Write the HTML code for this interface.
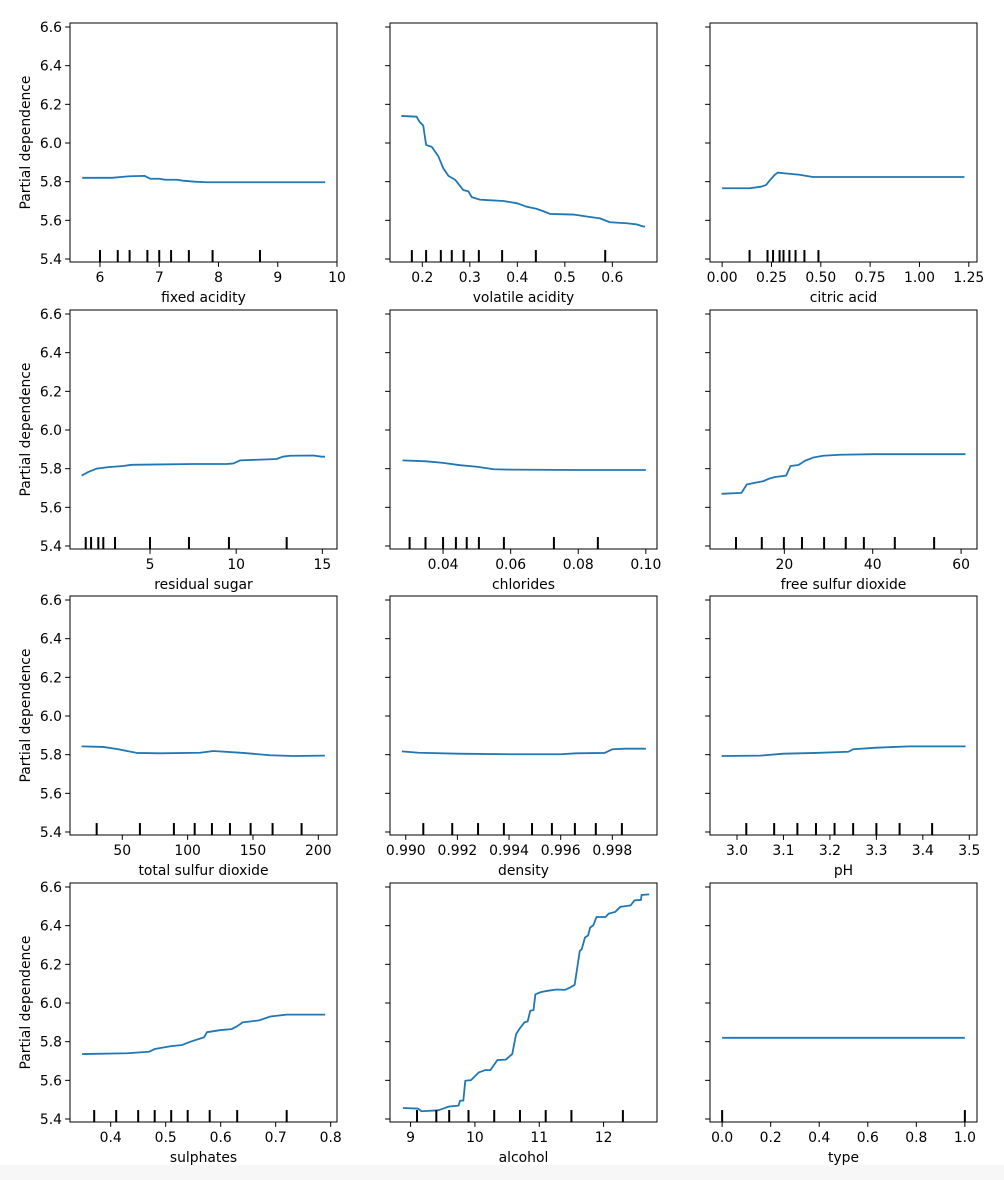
<!DOCTYPE html>
<html><head><meta charset="utf-8">
<style>
html,body{margin:0;padding:0;background:#fff;}
svg{display:block;font-family:"DejaVu Sans","Liberation Sans",sans-serif;}
</style></head>
<body>
<svg id="fig" width="1004" height="1180" viewBox="0 0 1004 1180" xmlns="http://www.w3.org/2000/svg">
<rect x="0" y="0" width="1004" height="1180" fill="#ffffff"/>
<rect x="0" y="1165" width="1004" height="15" fill="#f7f7f7"/>
</svg>
<script>
// ---- data ----
const featureNames = ["fixed acidity","volatile acidity","citric acid","residual sugar","chlorides","free sulfur dioxide","total sulfur dioxide","density","pH","sulphates","alcohol","type"];
const yTicks = [5.4,5.6,5.8,6.0,6.2,6.4,6.6];
const yTickLabels = ["5.4","5.6","5.8","6.0","6.2","6.4","6.6"];

const fixedAcidityX = [5.7,6.2,6.5,6.75,6.85,7.0,7.1,7.3,7.4,7.6,7.8,9.8];
const fixedAcidityY = [5.82,5.82,5.828,5.83,5.815,5.815,5.81,5.81,5.805,5.80,5.797,5.797];
const fixedAcidityDeciles = [6.0,6.3,6.5,6.8,7.0,7.2,7.5,7.9,8.7];
const fixedAcidityTicks = [6,7,8,9,10];
const fixedAcidityTickLabels = ["6","7","8","9","10"];

const volatileX = [0.156,0.188,0.194,0.202,0.208,0.22,0.234,0.244,0.255,0.269,0.286,0.297,0.304,0.321,0.335,0.371,0.40,0.42,0.44,0.455,0.469,0.518,0.546,0.574,0.595,0.63,0.651,0.665,0.669];
const volatileY = [6.14,6.136,6.11,6.09,5.99,5.98,5.93,5.87,5.83,5.81,5.757,5.75,5.72,5.707,5.705,5.70,5.688,5.67,5.66,5.647,5.633,5.63,5.62,5.61,5.59,5.585,5.579,5.568,5.568];
const volatileDeciles = [0.178,0.208,0.239,0.262,0.287,0.319,0.368,0.439,0.585];
const volatileTicks = [0.2,0.3,0.4,0.5,0.6];
const volatileTickLabels = ["0.2","0.3","0.4","0.5","0.6"];

const citricX = [0,0.139,0.198,0.223,0.24,0.265,0.282,0.30,0.392,0.46,1.228];
const citricY = [5.766,5.766,5.774,5.783,5.805,5.834,5.847,5.845,5.836,5.824,5.824];
const citricDeciles = [0.139,0.23,0.258,0.291,0.311,0.341,0.372,0.417,0.488];
const citricTicks = [0,0.25,0.5,0.75,1.0,1.25];
const citricTickLabels = ["0.00","0.25","0.50","0.75","1.00","1.25"];

const sugarX = [1.03,1.42,1.9,2.58,3.45,3.94,5.58,7.51,9.46,9.84,10.23,12.35,12.7,13.12,14.48,14.96,15.15];
const sugarY = [5.764,5.783,5.80,5.808,5.814,5.82,5.822,5.824,5.824,5.827,5.843,5.85,5.862,5.867,5.868,5.862,5.862];
const sugarDeciles = [1.27,1.58,2.0,2.29,2.97,5.0,7.26,9.58,12.93];
const sugarTicks = [5,10,15];
const sugarTickLabels = ["5","10","15"];

const chloridesX = [0.028,0.035,0.04,0.045,0.05,0.055,0.06,0.08,0.1];
const chloridesY = [5.843,5.838,5.83,5.818,5.81,5.797,5.795,5.793,5.793];
const chloridesDeciles = [0.0301,0.0348,0.04,0.0438,0.047,0.0506,0.058,0.0728,0.0858];
const chloridesTicks = [0.04,0.06,0.08,0.10];
const chloridesTickLabels = ["0.04","0.06","0.08","0.10"];

const freeSO2X = [5.8,10.3,11.5,13.4,15.2,16.4,17.9,20.4,21.4,23.2,24.7,26.6,28.8,32.6,40.2,61];
const freeSO2Y = [5.67,5.675,5.718,5.727,5.735,5.747,5.757,5.764,5.814,5.819,5.841,5.858,5.867,5.872,5.875,5.875];
const freeSO2Deciles = [9.06,14.9,19.9,24,29,33.9,38,45,53.9];
const freeSO2Ticks = [20,40,60];
const freeSO2TickLabels = ["20","40","60"];

const totalSO2X = [18.9,35.5,47,61,79,109.5,119.7,142.6,163,180.8,205];
const totalSO2Y = [5.843,5.84,5.828,5.809,5.807,5.81,5.819,5.809,5.797,5.793,5.795];
const totalSO2Deciles = [30.4,63.5,89.5,105.4,118.6,132.4,148.2,165,187.2];
const totalSO2Ticks = [50,100,150,200];
const totalSO2TickLabels = ["50","100","150","200"];

const densityX = [0.98985,0.9905,0.992,0.994,0.996,0.9966,0.9977,0.998,0.9985,0.9993];
const densityY = [5.817,5.81,5.805,5.802,5.802,5.807,5.809,5.828,5.831,5.831];
const densityDeciles = [0.99068,0.9918,0.9928,0.9938,0.99489,0.99566,0.99655,0.99736,0.99837];
const densityTicks = [0.990,0.992,0.994,0.996,0.998];
const densityTickLabels = ["0.990","0.992","0.994","0.996","0.998"];

const phX = [2.967,3.05,3.1,3.17,3.24,3.25,3.3,3.37,3.492];
const phY = [5.793,5.795,5.805,5.809,5.815,5.828,5.836,5.843,5.843];
const phDeciles = [3.02,3.08,3.13,3.17,3.21,3.25,3.30,3.35,3.42];
const phTicks = [3.0,3.1,3.2,3.3,3.4,3.5];
const phTickLabels = ["3.0","3.1","3.2","3.3","3.4","3.5"];

const sulphatesX = [0.348,0.43,0.47,0.48,0.51,0.53,0.545,0.57,0.575,0.6,0.62,0.63,0.64,0.67,0.69,0.72,0.79];
const sulphatesY = [5.736,5.74,5.748,5.762,5.777,5.783,5.80,5.823,5.849,5.86,5.865,5.88,5.9,5.91,5.93,5.94,5.94];
const sulphatesDeciles = [0.37,0.41,0.45,0.48,0.51,0.54,0.58,0.63,0.72];
const sulphatesTicks = [0.4,0.5,0.6,0.7,0.8];
const sulphatesTickLabels = ["0.4","0.5","0.6","0.7","0.8"];

const alcoholX = [8.88,9.115,9.17,9.43,9.51,9.59,9.745,9.77,9.82,9.85,9.94,10.06,10.16,10.24,10.35,10.48,10.58,10.64,10.69,10.77,10.82,10.86,10.91,10.94,11.03,11.13,11.27,11.4,11.48,11.55,11.63,11.66,11.71,11.76,11.79,11.84,11.89,12.03,12.08,12.18,12.26,12.42,12.48,12.58,12.59,12.71];
const alcoholY = [5.457,5.454,5.44,5.445,5.454,5.464,5.469,5.495,5.495,5.598,5.601,5.641,5.653,5.653,5.705,5.707,5.736,5.839,5.865,5.90,5.905,5.96,5.963,6.045,6.057,6.063,6.07,6.068,6.08,6.094,6.27,6.278,6.338,6.35,6.39,6.402,6.445,6.445,6.462,6.471,6.497,6.505,6.531,6.533,6.559,6.562];
const alcoholDeciles = [9.1,9.4,9.6,9.9,10.3,10.7,11.1,11.5,12.3];
const alcoholTicks = [9,10,11,12];
const alcoholTickLabels = ["9","10","11","12"];

const typeX = [0,1];
const typeY = [5.82,5.82];
const typeDeciles = [0,1];
const typeTicks = [0,0.2,0.4,0.6,0.8,1.0];
const typeTickLabels = ["0.0","0.2","0.4","0.6","0.8","1.0"];

// ---- layout ----
const svg = document.getElementById('fig');
const NS = 'http://www.w3.org/2000/svg';
const colLeft = [70,390,710];
const rowTop = [23,310,596,883];
const W = 267, H = 239;
const Y0 = 5.3845, Y1 = 6.6207;

const panels = [
  {xs:fixedAcidityX, ys:fixedAcidityY, dec:fixedAcidityDeciles, ticks:fixedAcidityTicks, labels:fixedAcidityTickLabels, xlim:[5.494,10.0]},
  {xs:volatileX, ys:volatileY, dec:volatileDeciles, ticks:volatileTicks, labels:volatileTickLabels, xlim:[0.132,0.694]},
  {xs:citricX, ys:citricY, dec:citricDeciles, ticks:citricTicks, labels:citricTickLabels, xlim:[-0.0615,1.2915]},
  {xs:sugarX, ys:sugarY, dec:sugarDeciles, ticks:sugarTicks, labels:sugarTickLabels, xlim:[0.357,15.85]},
  {xs:chloridesX, ys:chloridesY, dec:chloridesDeciles, ticks:chloridesTicks, labels:chloridesTickLabels, xlim:[0.0243,0.1033]},
  {xs:freeSO2X, ys:freeSO2Y, dec:freeSO2Deciles, ticks:freeSO2Ticks, labels:freeSO2TickLabels, xlim:[3.18,63.6]},
  {xs:totalSO2X, ys:totalSO2Y, dec:totalSO2Deciles, ticks:totalSO2Ticks, labels:totalSO2TickLabels, xlim:[10.0,214.3]},
  {xs:densityX, ys:densityY, dec:densityDeciles, ticks:densityTicks, labels:densityTickLabels, xlim:[0.98939,0.99973]},
  {xs:phX, ys:phY, dec:phDeciles, ticks:phTicks, labels:phTickLabels, xlim:[2.9419,3.5166]},
  {xs:sulphatesX, ys:sulphatesY, dec:sulphatesDeciles, ticks:sulphatesTicks, labels:sulphatesTickLabels, xlim:[0.326,0.8115]},
  {xs:alcoholX, ys:alcoholY, dec:alcoholDeciles, ticks:alcoholTicks, labels:alcoholTickLabels, xlim:[8.68,12.83]},
  {xs:typeX, ys:typeY, dec:typeDeciles, ticks:typeTicks, labels:typeTickLabels, xlim:[-0.05,1.05]}
];

function mk(tag, attrs, parent){
  const e = document.createElementNS(NS, tag);
  for (const k in attrs) e.setAttribute(k, attrs[k]);
  (parent||svg).appendChild(e);
  return e;
}

panels.forEach((p, i) => {
  const col = i % 3, row = Math.floor(i / 3);
  const L = colLeft[col], T = rowTop[row];
  const slug = featureNames[i].replace(/\s+/g,'-');
  const xScale = v => L + (v - p.xlim[0]) / (p.xlim[1] - p.xlim[0]) * W;
  const yScale = v => T + (Y1 - v) / (Y1 - Y0) * H;

  const g = mk('g', {});
  
  

  const d = p.xs.map((x, k) => (k ? 'L' : 'M') + xScale(x).toFixed(2) + ',' + yScale(p.ys[k]).toFixed(2)).join(' ');
  const path = mk('path', {d:d, fill:'none', stroke:'#1f77b4', 'stroke-width':1.8, 'stroke-linejoin':'round'}, g);
  
  

  p.dec.forEach(v => {
    const x = xScale(v);
    const r = mk('line', {x1:x, x2:x, y1:T + H - H*0.05, y2:T + H, stroke:'#000', 'stroke-width':2}, g);
    
    
  });

  const fr = mk('rect', {x:L, y:T, width:W, height:H, fill:'none', stroke:'#000', 'stroke-width':1}, g);
  
  

  p.ticks.forEach((v, k) => {
    const x = xScale(v);
    mk('line', {x1:x, x2:x, y1:T+H, y2:T+H+4.9, stroke:'#000', 'stroke-width':1}, g);
    const t = mk('text', {x:x, y:T+H+20, 'font-size':13.9, 'text-anchor':'middle', fill:'#000'}, g);
    t.textContent = p.labels[k];
    
    
  });
  const xl = mk('text', {x:L + W/2, y:T+H+40, 'font-size':13.9, 'text-anchor':'middle', fill:'#000'}, g);
  xl.textContent = featureNames[i];
  
  

  yTicks.forEach((v, k) => {
    const y = yScale(v);
    mk('line', {x1:L-4.9, x2:L, y1:y, y2:y, stroke:'#000', 'stroke-width':1}, g);
    if (col === 0) {
      const t = mk('text', {x:L-8, y:y+5, 'font-size':13.9, 'text-anchor':'end', fill:'#000'}, g);
      t.textContent = yTickLabels[k];
      
      
    }
  });
  if (col === 0) {
    const cy = T + H/2;
    const yl = mk('text', {x:30, y:cy, 'font-size':13.9, 'text-anchor':'middle', fill:'#000', transform:'rotate(-90 30 ' + cy + ')'}, g);
    yl.textContent = 'Partial dependence';
    
    
  }
});
</script>
</body></html>
